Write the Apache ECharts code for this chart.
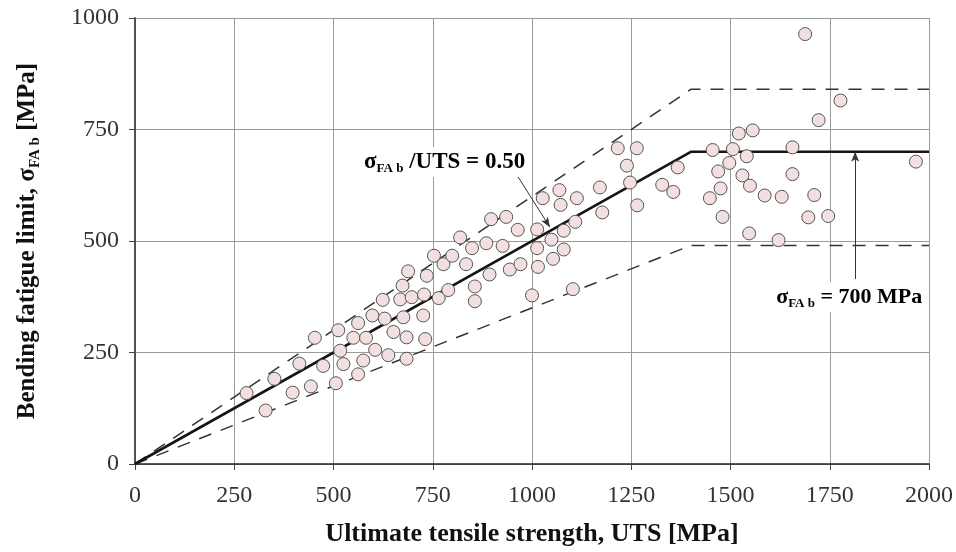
<!DOCTYPE html>
<html>
<head>
<meta charset="utf-8">
<script src="https://cdn.jsdelivr.net/npm/echarts@6/dist/echarts.min.js"></script>
<style>html,body{margin:0;padding:0;background:#fff}#c{width:956px;height:552px}</style>
</head>
<body>
<div id="c"></div>
<script>
// ---- data ----
var uts = [281,329,351,397,414,443,453,474,506,512,517,525,550,562,562,575,582,598,605,624,
  629,638,651,676,668,684,684,674,688,697,726,731,728,735,753,765,777,789,799,819,
  834,849,856,856,885,897,893,926,935,944,964,971,1000,1013,1013,1015,1027,1049,1053,1072,
  1080,1080,1103,1109,1113,1177,1069,1171,1216,1264,1239,1247,1265,1328,1356,1367,1455,1506,1497,1469,
  1541,1530,1549,1475,1448,1480,1586,1629,1547,1621,1656,1656,1711,1696,1746,1521,1556,1688,1777,1722,1967];
var sigmaFAb = [159,120,191,160,225,174,283,220,181,300,254,224,283,316,201,232,283,333,256,368,
  326,244,296,329,369,236,284,400,432,374,333,280,380,422,467,372,448,390,467,508,
  448,484,398,365,495,549,425,489,554,436,525,448,378,526,484,442,596,503,460,581,
  523,481,392,543,596,564,614,620,708,708,669,631,580,626,610,665,704,706,675,656,
  690,647,624,618,596,554,602,599,517,502,710,650,603,553,556,741,748,964,815,771,678];
var kneeUTS = [0, 1400, 2000];
var meanLimit = [0, 700, 700];
var upperLimit = [0, 840, 840];
var lowerLimit = [0, 490, 490];
var xTicks = {min: 0, max: 2000, interval: 250};
var yTicks = {min: 0, max: 1000, interval: 250};
// annotation anchor points (data units)
var ratioArrow = [[962, 648], [1045, 531]];
var limitArrow = [[1814, 415], [1814, 700]];
var ratioLabelAt = [572, 677];
var limitLabelAt = [1610, 374];

function pairs(xs, ys){ return xs.map(function(x,i){ return [x, ys[i]]; }); }

var serif = '"Liberation Serif", "DejaVu Serif", serif';
var chart = echarts.init(document.getElementById('c'));
var xRich = {
  b: {fontFamily: serif, fontWeight: 'bold', fontSize: 26, color: '#111', lineHeight: 30}
};
var yRich = {
  b: {fontFamily: serif, fontWeight: 'bold', fontSize: 25, color: '#111', lineHeight: 30},
  s: {fontFamily: serif, fontWeight: 'bold', fontSize: 15, color: '#111', verticalAlign: 'bottom', lineHeight: 22}
};
var annRich = {
  b: {fontFamily: serif, fontWeight: 'bold', fontSize: 23, color: '#111', lineHeight: 26},
  s: {fontFamily: serif, fontWeight: 'bold', fontSize: 13, color: '#111', verticalAlign: 'bottom', lineHeight: 19}
};
var annRich2 = {
  b: {fontFamily: serif, fontWeight: 'bold', fontSize: 22, color: '#111', lineHeight: 26},
  s: {fontFamily: serif, fontWeight: 'bold', fontSize: 13, color: '#111', verticalAlign: 'bottom', lineHeight: 19}
};
function plain(v){ return String(v); }

chart.setOption({
  animation: false,
  backgroundColor: '#fff',
  grid: {left: 135, right: 27, top: 18, bottom: 88},
  xAxis: {
    type: 'value', min: xTicks.min, max: xTicks.max, interval: xTicks.interval,
    name: '{b|Ultimate tensile strength, UTS [MPa]}',
    nameLocation: 'middle', nameGap: 55,
    nameTextStyle: {rich: xRich},
    axisLine: {show: true, onZero: false, lineStyle: {color: '#222', width: 1.5}},
    axisTick: {show: true, length: 6, lineStyle: {color: '#444'}},
    axisLabel: {fontFamily: serif, fontSize: 24, color: '#333', margin: 20, formatter: plain},
    splitLine: {show: true, lineStyle: {color: '#9a9a9a', width: 1}}
  },
  yAxis: [{
    type: 'value', min: yTicks.min, max: yTicks.max, interval: yTicks.interval,
    name: '{b|Bending fatigue limit, σ}{s|FA b}{b| [MPa]}',
    nameLocation: 'middle', nameGap: 92, nameRotate: 90,
    nameTextStyle: {rich: yRich},
    axisLine: {show: true, onZero: false, lineStyle: {color: '#222', width: 1.5}},
    axisTick: {show: true, length: 6, lineStyle: {color: '#444'}},
    axisLabel: {fontFamily: serif, fontSize: 24, color: '#333', margin: 16, formatter: plain},
    splitLine: {show: true, lineStyle: {color: '#9a9a9a', width: 1}}
  }, {
    type: 'value', position: 'right', min: yTicks.min, max: yTicks.max, interval: yTicks.interval,
    axisLine: {show: true, lineStyle: {color: '#555', width: 1.5}},
    axisTick: {show: false}, axisLabel: {show: false}, splitLine: {show: false}
  }],
  series: [
    {type: 'line', data: pairs(kneeUTS, upperLimit), symbol: 'none', z: 2,
     lineStyle: {color: '#333', width: 1.5, type: [13, 10]}},
    {type: 'line', data: pairs(kneeUTS, lowerLimit), symbol: 'none', z: 2,
     lineStyle: {color: '#333', width: 1.5, type: [13, 10]}},
    {type: 'line', data: pairs(kneeUTS, meanLimit), symbol: 'none', z: 3,
     lineStyle: {color: '#151515', width: 2.6}},
    {type: 'scatter', data: pairs(uts, sigmaFAb), symbol: 'circle', symbolSize: 13, z: 5,
     itemStyle: {color: '#f2dfe0', borderColor: '#555', borderWidth: 1, opacity: 1}},
    {type: 'line', data: [], z: 4,
     markLine: {silent: true, symbol: ['none', 'arrow'], symbolSize: [6, 10],
       label: {show: false},
       lineStyle: {color: '#333', width: 1, type: 'solid'},
       data: [
         [{coord: ratioArrow[0]}, {coord: ratioArrow[1]}],
         [{coord: limitArrow[0]}, {coord: limitArrow[1]}]
       ]}}
  ]
});

var p1 = chart.convertToPixel({gridIndex: 0}, ratioLabelAt);
var p2 = chart.convertToPixel({gridIndex: 0}, limitLabelAt);
chart.setOption({
  graphic: [
    {type: 'text', left: p1[0], top: p1[1] - 15, z: 10,
     style: {text: '{b|σ}{s|FA b}{b| /UTS = 0.50}', rich: annRich, backgroundColor: '#fff', padding: [2, 2]}},
    {type: 'text', left: p2[0], top: p2[1] - 15, z: 10,
     style: {text: '{b|σ}{s|FA b}{b| = 700 MPa}', rich: annRich2, backgroundColor: '#fff', padding: [2, 2]}}
  ]
});
</script>
</body>
</html>
